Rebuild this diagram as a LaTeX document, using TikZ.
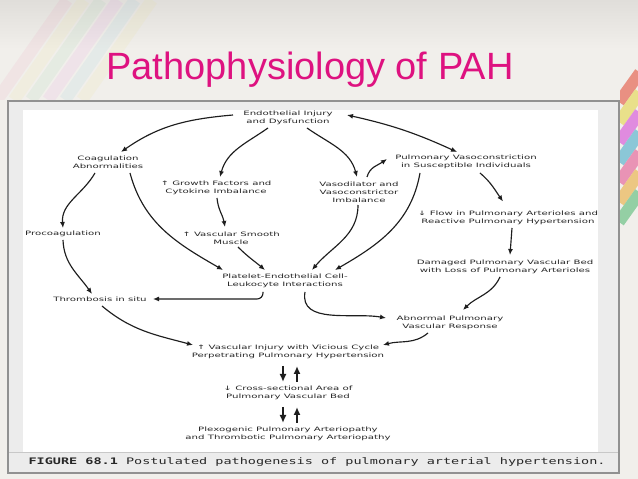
\documentclass[tikz,border=0pt]{standalone}
\usepackage{fontspec}
\setmainfont{Liberation Sans}
\newfontfamily\figfont[FakeStretch=1.7]{DejaVu Sans}
\newfontfamily\capfont[FakeStretch=1.5]{DejaVu Sans Mono}
\usetikzlibrary{arrows.meta}
\definecolor{titlepink}{RGB}{222,18,128}
\definecolor{txtgray}{RGB}{40,40,40}
\definecolor{arrgray}{RGB}{30,30,30}
\definecolor{bgpaper}{RGB}{241,239,235}
\definecolor{bgtop}{RGB}{224,222,218}
\definecolor{panelgray}{RGB}{236,236,236}
\definecolor{framegray}{RGB}{145,145,145}
\definecolor{stsalmon}{RGB}{232,128,112}
\definecolor{styellow}{RGB}{232,222,122}
\definecolor{stmagenta}{RGB}{222,122,222}
\definecolor{stteal}{RGB}{122,192,212}
\definecolor{stpink}{RGB}{232,132,172}
\definecolor{storange}{RGB}{236,192,112}
\definecolor{stgreen}{RGB}{132,202,152}

\begin{document}
\begin{tikzpicture}[x=1pt, y=1pt,
  lbl/.style={align=center, font=\figfont\fontsize{6}{7.8}\selectfont, text=txtgray, inner sep=1pt},
  arrow/.style={-{Latex[length=6pt,width=5pt]}, line width=1.15pt, draw=arrgray},
  twoway/.style={{Latex[length=6pt,width=5pt]}-{Latex[length=6pt,width=5pt]}, line width=1.15pt, draw=arrgray},
  fat/.style={-{Latex[length=8pt,width=7pt]}, line width=1.8pt, draw=arrgray}
]
\useasboundingbox (0,0) rectangle (638,479);
\fill[bgpaper] (0,0) rectangle (638,479);
\shade[top color=bgtop, bottom color=bgpaper] (0,430) rectangle (638,479);
\begin{scope}
\clip (0,379) rectangle (260,479);
\foreach \c [count=\i] in {stpink,styellow,stgreen,stmagenta,stteal,styellow}
  \draw[line width=12pt, \c, opacity=0.1] ({-20+17*\i},379) -- +(70,100);
\end{scope}
\begin{scope}
\clip (620,0) rectangle (638,479);
\foreach \c [count=\i] in {stsalmon,styellow,stmagenta,stteal,stpink,storange,stgreen}
  \draw[line width=11.6pt, \c, opacity=0.85] (619,{391-20*(\i-1)-14}) -- +(21,29.4);
\end{scope}

\node[font=\fontsize{38}{40}\selectfont, text=titlepink, anchor=base] (title) at (310,399) {Pathophysiology of PAH};

\filldraw[fill=panelgray, draw=framegray, line width=1.2pt] (8,6) rectangle (619,378);
\fill[white] (23,27) rectangle (598,369);
\draw[framegray!50] (9,27) -- (618,27);
\node[font=\capfont\fontsize{9}{10}\selectfont, text=txtgray, anchor=base west] (caption) at (25,14)
  {\textbf{FIGURE 68.1} Postulated pathogenesis of pulmonary arterial hypertension.};

\node[lbl] (endo) at (288,361.5) {Endothelial Injury\\and Dysfunction};
\node[lbl] (coag) at (108,317) {Coagulation\\Abnormalities};
\node[lbl] (growth) at (216,291) {↑ Growth Factors and\\Cytokine Imbalance};
\node[lbl] (vaso) at (359,287) {Vasodilator and\\Vasoconstrictor\\Imbalance};
\node[lbl] (pvc) at (466,317.5) {Pulmonary Vasoconstriction\\in Susceptible Individuals};
\node[lbl] (procoag) at (63,245) {Procoagulation};
\node[lbl] (vsm) at (231,241) {↑ Vascular Smooth\\Muscle};
\node[lbl] (flow) at (508,261.5) {↓ Flow in Pulmonary Arterioles and\\Reactive Pulmonary Hypertension};
\node[lbl] (damaged) at (505,212) {Damaged Pulmonary Vascular Bed\\with Loss of Pulmonary Arterioles};
\node[lbl] (platelet) at (285,198) {Platelet-Endothelial Cell-\\Leukocyte Interactions};
\node[lbl] (thromb) at (100,180) {Thrombosis in situ};
\node[lbl] (abnormal) at (450,156) {Abnormal Pulmonary\\Vascular Response};
\node[lbl] (injury) at (288,127) {↑ Vascular Injury with Vicious Cycle\\Perpetrating Pulmonary Hypertension};
\node[lbl] (cross) at (288,86) {↓ Cross-sectional Area of\\Pulmonary Vascular Bed};
\node[lbl] (plexo) at (288,45) {Plexogenic Pulmonary Arteriopathy\\and Thrombotic Pulmonary Arteriopathy};

\draw[arrow] ([shift={(-55,2.5)}]endo.center) to[out=185,in=35] ([shift={(13,10)}]coag.center);
\draw[arrow] ([shift={(-20,-10.5)}]endo.center) to[out=215,in=75] ([shift={(4,11)}]growth.center);
\draw[arrow] ([shift={(19,-10.5)}]endo.center) to[out=-35,in=105] ([shift={(-2,15)}]vaso.center);
\draw[twoway] ([shift={(59,2.5)}]endo.center) to[bend left=6] ([shift={(-9,9.5)}]pvc.center);
\draw[arrow] ([shift={(-13,-11)}]coag.center) to[out=240,in=95] ([shift={(0,6)}]procoag.center);
\draw[arrow] ([shift={(22,-11)}]coag.center) to[out=-75,in=150] ([shift={(-62,11)}]platelet.center);
\draw[arrow] ([shift={(1,-10)}]growth.center) to[out=-85,in=100] ([shift={(-6,11)}]vsm.center);
\draw[arrow] ([shift={(7,-9)}]vsm.center) to[out=-45,in=140] ([shift={(-20,11)}]platelet.center);
\draw[arrow] ([shift={(-1,-13)}]vaso.center) to[out=-90,in=50] ([shift={(27,11)}]platelet.center);
\draw[arrow] ([shift={(8,15)}]vaso.center) to[out=75,in=215] ([shift={(-79,2.5)}]pvc.center);
\draw[arrow] ([shift={(-46,-11.5)}]pvc.center) to[out=-100,in=30] ([shift={(50,11)}]platelet.center);
\draw[arrow] ([shift={(14,-11.5)}]pvc.center) to[out=-40,in=125] ([shift={(-5,16)}]flow.center);
\draw[arrow] ([shift={(4,-10.5)}]flow.center) -- ([shift={(5,12)}]damaged.center);
\draw[arrow] ([shift={(-5,-10)}]damaged.center) to[out=-115,in=45] ([shift={(13,13)}]abnormal.center);
\draw[arrow, rounded corners=6pt] ([shift={(-22,-11)}]platelet.center) |- ([shift={(53,0)}]thromb.center);
\draw[arrow] ([shift={(20,-11)}]platelet.center) to[out=-100,in=170] ([shift={(-64,5)}]abnormal.center);
\draw[arrow] ([shift={(0,-6)}]procoag.center) to[out=-88,in=125] ([shift={(-8,5)}]thromb.center);
\draw[arrow] ([shift={(2,-7)}]thromb.center) to[out=-40,in=165] ([shift={(-95,7)}]injury.center);
\draw[arrow] ([shift={(-22,-10)}]abnormal.center) to[out=-140,in=15] ([shift={(95,7)}]injury.center);
\draw[fat] ([shift={(-5,-14)}]injury.center) -- ([shift={(-5,11)}]cross.center);
\draw[fat] ([shift={(9,11)}]cross.center) -- ([shift={(9,-14)}]injury.center);
\draw[fat] ([shift={(-5,-14)}]cross.center) -- ([shift={(-5,11)}]plexo.center);
\draw[fat] ([shift={(9,11)}]plexo.center) -- ([shift={(9,-14)}]cross.center);
\end{tikzpicture}
\end{document}
